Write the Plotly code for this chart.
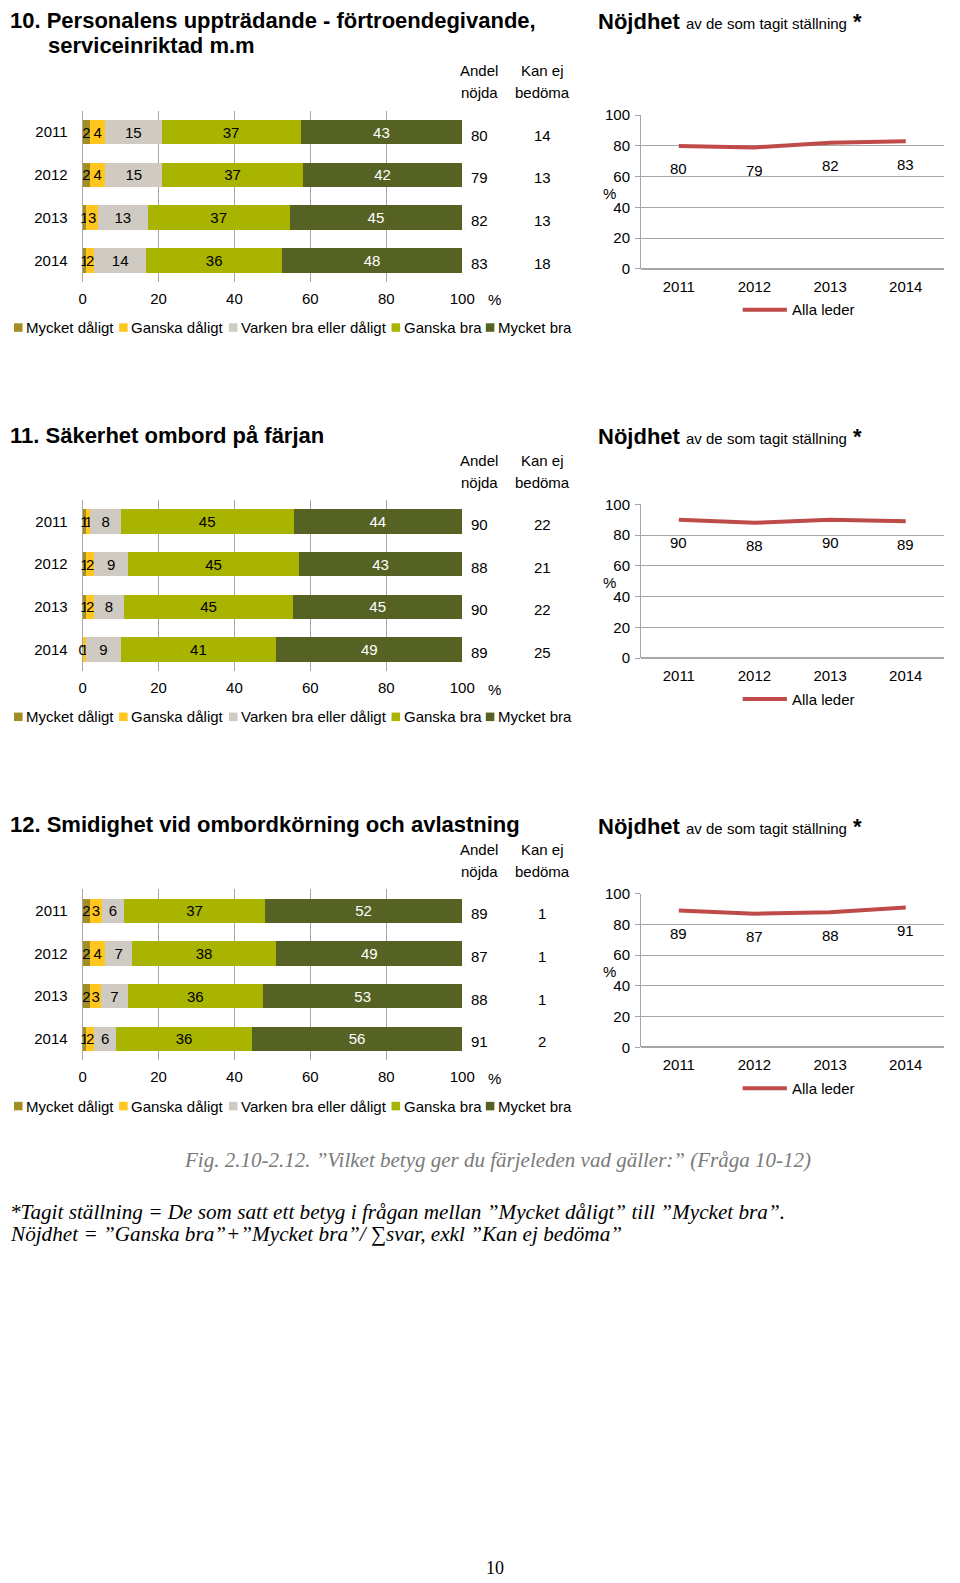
import plotly.graph_objects as go

W, H = 960, 1583
FONT = "Liberation Sans, Arial, sans-serif"
SERIF = "Liberation Serif, DejaVu Serif, serif"

years = ["2011", "2012", "2013", "2014"]
scale_labels = ["Mycket dåligt", "Ganska dåligt", "Varken bra eller dåligt", "Ganska bra", "Mycket bra"]
bar_ticks = [0, 20, 40, 60, 80, 100]
line_ticks = [0, 20, 40, 60, 80, 100]

# Fråga 10
q10_title = ["10. Personalens uppträdande - förtroendegivande,", "serviceinriktad m.m"]
q10_mycket_daligt = [2, 2, 1, 1]
q10_ganska_daligt = [4, 4, 3, 2]
q10_varken = [15, 15, 13, 14]
q10_ganska_bra = [37, 37, 37, 36]
q10_mycket_bra = [43, 42, 45, 48]
q10_andel_nojda = [80, 79, 82, 83]
q10_kan_ej = [14, 13, 13, 18]
q10_nojdhet = [80, 79, 82, 83]

# Fråga 11
q11_title = ["11. Säkerhet ombord på färjan"]
q11_mycket_daligt = [1, 1, 1, 0]
q11_ganska_daligt = [1, 2, 2, 1]
q11_varken = [8, 9, 8, 9]
q11_ganska_bra = [45, 45, 45, 41]
q11_mycket_bra = [44, 43, 45, 49]
q11_andel_nojda = [90, 88, 90, 89]
q11_kan_ej = [22, 21, 22, 25]
q11_nojdhet = [90, 88, 90, 89]

# Fråga 12
q12_title = ["12. Smidighet vid ombordkörning och avlastning"]
q12_mycket_daligt = [2, 2, 2, 1]
q12_ganska_daligt = [3, 4, 3, 2]
q12_varken = [6, 7, 7, 6]
q12_ganska_bra = [37, 38, 36, 36]
q12_mycket_bra = [52, 49, 53, 56]
q12_andel_nojda = [89, 87, 88, 91]
q12_kan_ej = [1, 1, 1, 2]
q12_nojdhet = [89, 87, 88, 91]

line_name = "Alla leder"
fig_caption = "Fig. 2.10-2.12. ”Vilket betyg ger du färjeleden vad gäller:” (Fråga 10-12)"
note1 = "*Tagit ställning = De som satt ett betyg i frågan mellan ”Mycket dåligt” till ”Mycket bra”."
note2 = "Nöjdhet = ”Ganska bra”+”Mycket bra”/ ∑svar, exkl ”Kan ej bedöma”"
page_no = "10"

# ---------------------------------------------------------------- styling
COLORS = ["#A38E22", "#FFC61E", "#CFCBC3", "#A8B400", "#566224"]
TEXTCOL = ["black", "black", "black", "black", "white"]
GRID = "#A6A6A6"
RED = "#BE4B48"

sections = [
    dict(title=q10_title, series=[q10_mycket_daligt, q10_ganska_daligt, q10_varken, q10_ganska_bra, q10_mycket_bra],
         andel=q10_andel_nojda, kanej=q10_kan_ej, line=q10_nojdhet,
         off=0, title_y=[12, 37.4], nojd_y=13),
    dict(title=q11_title, series=[q11_mycket_daligt, q11_ganska_daligt, q11_varken, q11_ganska_bra, q11_mycket_bra],
         andel=q11_andel_nojda, kanej=q11_kan_ej, line=q11_nojdhet,
         off=393.5, title_y=[431], nojd_y=432),
    dict(title=q12_title, series=[q12_mycket_daligt, q12_ganska_daligt, q12_varken, q12_ganska_bra, q12_mycket_bra],
         andel=q12_andel_nojda, kanej=q12_kan_ej, line=q12_nojdhet,
         off=787, title_y=[824], nojd_y=826),
]


def px(x):
    return x / W


def py(y):
    return 1 - y / H


def axname(kind, n):
    return kind + "axis" if n == 1 else f"{kind}axis{n}"


def axref(kind, n):
    return kind if n == 1 else f"{kind}{n}"


fig = go.Figure()
layout = {}
annotations = []
shapes = []

legend_text_x = [20.7, 127.7, 239.5, 405, 501]

for k, s in enumerate(sections):
    off = s["off"]
    nb = 2 * k + 1
    nl = 2 * k + 2

    # stacked 100% bars
    for i, (lab, vals) in enumerate(zip(scale_labels, s["series"])):
        fig.add_trace(go.Bar(
            y=years, x=vals, orientation="h", name=lab,
            marker=dict(color=COLORS[i], line=dict(width=0)),
            text=[str(v) for v in vals],
            textposition=["outside" if v == 0 else "inside" for v in vals],
            insidetextanchor="middle", textangle=0, constraintext="none",
            textfont=dict(family=FONT, size=15, color=TEXTCOL[i]),
            outsidetextfont=dict(family=FONT, size=15, color="black"),
            cliponaxis=False, hoverinfo="skip", showlegend=False,
            xaxis=axref("x", nb), yaxis=axref("y", nb),
        ))

    layout[axname("x", nb)] = dict(
        domain=[px(80), px(466.5)], range=[0, 100], autorange=False, tickvals=bar_ticks,
        showgrid=True, gridcolor=GRID, gridwidth=1, zeroline=True, zerolinecolor=GRID,
        zerolinewidth=1, showline=False, ticks="", ticklabelstandoff=6,
        tickfont=dict(family=FONT, size=15, color="black"),
        anchor=axref("y", nb), fixedrange=True,
    )
    layout[axname("y", nb)] = dict(
        domain=[py(275.7 + off), py(102.9 + off)], type="category",
        categoryorder="array", categoryarray=years, range=[3.5, -0.5], autorange=False,
        showgrid=False, zeroline=False, showline=False, ticks="",
        ticklabelstandoff=14, tickfont=dict(family=FONT, size=15, color="black"),
        anchor=axref("x", nb), fixedrange=True,
    )

    # line chart
    fig.add_trace(go.Scatter(
        x=years, y=s["line"], mode="lines", name=line_name,
        line=dict(color=RED, width=4), hoverinfo="skip", showlegend=False,
        xaxis=axref("x", nl), yaxis=axref("y", nl),
    ))
    layout[axname("x", nl)] = dict(
        domain=[px(648.5), px(956.5)], type="category", range=[-0.5, 3.5], autorange=False,
        categoryorder="array", categoryarray=years,
        showgrid=False, zeroline=False, showline=False, ticks="",
        ticklabelstandoff=7, tickfont=dict(family=FONT, size=15, color="black"),
        anchor=axref("y", nl), fixedrange=True,
    )
    layout[axname("y", nl)] = dict(
        domain=[py(262.7 + off), py(107.3 + off)], range=[0, 100], autorange=False,
        tickvals=line_ticks,
        showgrid=True, gridcolor=GRID, zeroline=True, zerolinecolor=GRID,
        showline=True, linecolor=GRID, ticks="outside", ticklen=5, tickcolor=GRID,
        ticklabelstandoff=2, tickfont=dict(family=FONT, size=15, color="black"),
        anchor=axref("x", nl), fixedrange=True,
    )

    # line value labels (category index positions on the line chart's x axis)
    for idx, v in enumerate(s["line"]):
        annotations.append(dict(
            x=idx, y=v, xref=axref("x", nl), yref=axref("y", nl), text=str(v),
            showarrow=False, yshift=-23, font=dict(family=FONT, size=15, color="black"),
        ))

    # andel nöjda / kan ej bedöma columns
    for idx, (a, kj) in enumerate(zip(s["andel"], s["kanej"])):
        annotations.append(dict(x=px(484), y=idx, xref="paper", yref=axref("y", nb), text=str(a),
                                showarrow=False, yshift=-3, font=dict(family=FONT, size=15, color="black")))
        annotations.append(dict(x=px(548), y=idx, xref="paper", yref=axref("y", nb), text=str(kj),
                                showarrow=False, yshift=-3, font=dict(family=FONT, size=15, color="black")))

    for txt, xx, yy in [("Andel", 484, 62.6), ("nöjda", 484, 84.8), ("Kan ej", 548, 62.6), ("bedöma", 548, 84.8)]:
        annotations.append(dict(x=px(xx), y=py(yy + off), xref="paper", yref="paper", text=txt,
                                showarrow=False, xanchor="center", yanchor="middle",
                                font=dict(family=FONT, size=15, color="black")))

    # % labels
    annotations.append(dict(x=px(499), y=py(294 + off), xref="paper", yref="paper", text="%",
                            showarrow=False, xanchor="center", yanchor="middle",
                            font=dict(family=FONT, size=15, color="black")))
    annotations.append(dict(x=px(616), y=py(186 + off), xref="paper", yref="paper", text="%",
                            showarrow=False, xanchor="center", yanchor="middle",
                            font=dict(family=FONT, size=15, color="black")))

    # section title
    for j, (t, ty) in enumerate(zip(s["title"], s["title_y"])):
        annotations.append(dict(x=px(4 if j == 0 else 43), y=py(ty), xref="paper", yref="paper",
                                text=f"<b>{t}</b>", showarrow=False, xanchor="left", yanchor="middle",
                                font=dict(family=FONT, size=22, color="black")))
    annotations.append(dict(
        x=px(603), y=py(s["nojd_y"]), xref="paper", yref="paper",
        text="<b>Nöjdhet</b> <span style='font-size:15px'>av de som tagit ställning</span> <b>*</b>",
        showarrow=False, xanchor="left", yanchor="middle",
        font=dict(family=FONT, size=22, color="black")))

    # bar legend
    ly = 322 + off
    for i, lab in enumerate(scale_labels):
        tx = legend_text_x[i]
        shapes.append(dict(type="rect", xref="paper", yref="paper",
                           x0=px(tx - 10.5), x1=px(tx - 1.8), y0=py(ly + 4.3), y1=py(ly - 4.3),
                           fillcolor=COLORS[i], line=dict(width=0)))
        annotations.append(dict(x=px(tx), y=py(ly), xref="paper", yref="paper", text=lab,
                                showarrow=False, xanchor="left", yanchor="middle",
                                font=dict(family=FONT, size=15, color="black")))

    # line legend
    lly = 304 + off
    shapes.append(dict(type="line", xref="paper", yref="paper", x0=px(752), x1=px(797),
                       y0=py(lly), y1=py(lly), line=dict(color=RED, width=4)))
    annotations.append(dict(x=px(800), y=py(lly), xref="paper", yref="paper", text=line_name,
                            showarrow=False, xanchor="left", yanchor="middle",
                            font=dict(family=FONT, size=15, color="black")))

# footer texts
annotations.append(dict(x=px(502), y=py(1164), xref="paper", yref="paper", text=f"<i>{fig_caption}</i>",
                        showarrow=False, xanchor="center", yanchor="middle",
                        font=dict(family=SERIF, size=21, color="#7A7A7A")))
annotations.append(dict(x=px(4), y=py(1216), xref="paper", yref="paper", text=f"<i>{note1}</i>",
                        showarrow=False, xanchor="left", yanchor="middle",
                        font=dict(family=SERIF, size=21.2, color="black")))
annotations.append(dict(x=px(4), y=py(1238), xref="paper", yref="paper", text=f"<i>{note2}</i>",
                        showarrow=False, xanchor="left", yanchor="middle",
                        font=dict(family=SERIF, size=21.2, color="black")))
annotations.append(dict(x=px(500), y=py(1576), xref="paper", yref="paper", text=page_no,
                        showarrow=False, xanchor="center", yanchor="middle",
                        font=dict(family=SERIF, size=18, color="black")))

fig.update_layout(
    width=W, height=H, margin=dict(l=0, r=0, t=0, b=0),
    paper_bgcolor="white", plot_bgcolor="white",
    barmode="stack", barnorm="percent", bargap=0.43,
    uniformtext=dict(minsize=15, mode="show"),
    font=dict(family=FONT, size=15, color="black"),
    showlegend=False, annotations=annotations, shapes=shapes,
    **layout,
)

fig.write_html(
    "out.html",
    config={"displayModeBar": False},
    post_script="document.body.style.margin='0px';document.documentElement.style.overflow='hidden';",
)
